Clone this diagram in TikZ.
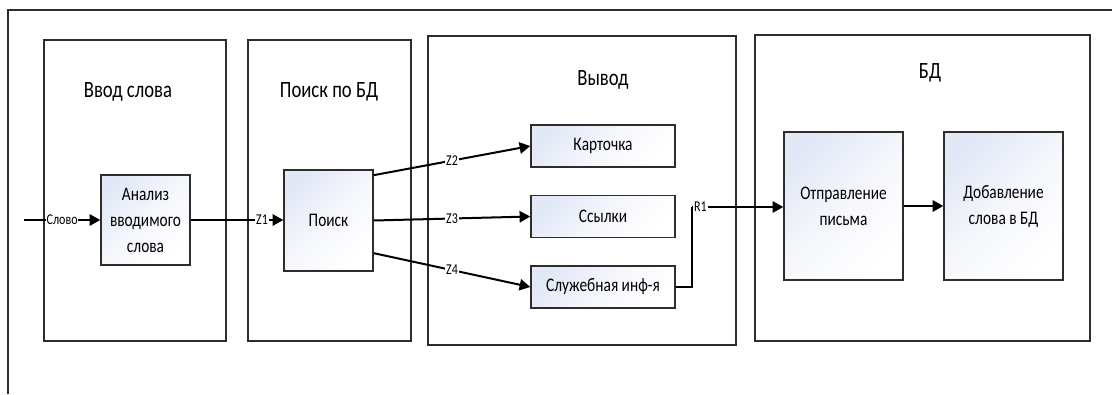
\documentclass[tikz,border=0pt]{standalone}
\usepackage{fontspec}
\setmainfont{Carlito}[FakeStretch=0.8]
\usetikzlibrary{arrows.meta,fit,calc}
\definecolor{boxtop}{RGB}{226,232,246}
\definecolor{edge}{RGB}{45,45,45}
\tikzset{
  frame/.style={draw=edge, line width=1.1pt},
  block/.style={draw=edge, line width=1.1pt, inner sep=0pt},
  title/.style={font=\fontsize{17.5}{20}\selectfont, inner sep=0pt},
  proc/.style={draw=edge, line width=1.1pt, top color=boxtop, bottom color=white, middle color=white!65!boxtop, shading angle=45,
    align=center, font=\fontsize{14.4}{19.5}\selectfont, inner sep=0pt},
  conn/.style={line width=1.5pt, -{Triangle[length=8pt,width=8.5pt]}},
  plain/.style={line width=1.5pt},
  lbl/.style={fill=white, inner sep=0.6pt, font=\fontsize{11.25}{12}\selectfont}
}
\begin{document}
\begin{tikzpicture}[x=0.75pt,y=-0.75pt]
\useasboundingbox (0,0) rectangle (1112,394);
% outer frame (top and left edges)
\draw[frame] (8,394) -- (8,10) -- (1112,10);
% container blocks
\node[block, fit={(44,40) (226,341)}] (b1) {};
\node[block, fit={(248,40) (411,341)}] (b2) {};
\node[block, fit={(428,36) (736,345)}] (b3) {};
\node[block, fit={(755,35) (1090,341)}] (b4) {};
% titles
\node[title] (t1) at (128,92) {Ввод слова};
\node[title] (t2) at (329,92) {Поиск по БД};
\node[title] (t3) at (603,80) {Вывод};
\node[title] (t4) at (930,73) {БД};
% process boxes
\node[proc, minimum width=66.75pt, minimum height=67.5pt] (anal) at (145.5,220) {Анализ\\вводимого\\слова};
\node[proc, minimum width=66.75pt, minimum height=75.75pt] (poisk) at (328.5,220.5) {Поиск};
\node[proc, minimum width=108pt, minimum height=31.5pt] (kart) at (603,146) {Карточка};
\node[proc, minimum width=108pt, minimum height=31.5pt] (ssyl) at (603,216.5) {Ссылки};
\node[proc, minimum width=108pt, minimum height=31.5pt] (sluzh) at (603,287) {Служебная инф-я};
\node[proc, minimum width=89.25pt, minimum height=111pt] (otpr) at (843.5,206) {Отправление\\письма};
\node[proc, minimum width=89.25pt, minimum height=111pt] (dob) at (1003.5,206) {Добавление\\слова в БД};
% connectors
\coordinate (in) at (24,220);
\draw[conn] (in) -- node[lbl, pos=0.5] {Слово} (anal.west);
\draw[conn] (anal.east) -- node[lbl, pos=0.77] {Z1} (anal.east -| poisk.west);
\draw[conn] ([yshift=34pt]poisk.east) -- node[lbl, pos=0.5] {Z2} (kart.west);
\draw[conn] (poisk.east) -- node[lbl, pos=0.5] {Z3} (ssyl.west);
\draw[conn] ([yshift=-24.5pt]poisk.east) -- node[lbl, pos=0.5] {Z4} (sluzh.west);
\coordinate (r1) at (692,207);
\draw[plain] (sluzh.east) -| (r1);
\draw[conn] (r1) -- (r1 -| otpr.west);
\node[lbl, anchor=west, xshift=0.8pt] (r1lbl) at (r1) {R1};
\draw[conn] (otpr.east) -- (otpr.east -| dob.west);
\end{tikzpicture}
\end{document}
